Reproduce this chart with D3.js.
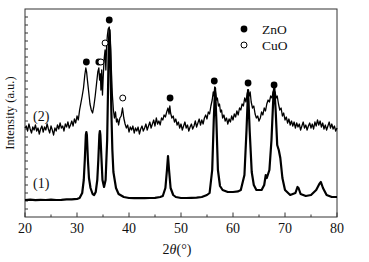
<!DOCTYPE html>
<html>
<head>
<meta charset="utf-8">
<script src="https://cdn.jsdelivr.net/npm/d3@7"></script>
<style>
  body { margin: 0; background: #fff; }
  svg text { font-family: "Liberation Serif", "Times New Roman", serif; fill: #111; }
</style>
</head>
<body>
<svg id="chart"></svg>
<script>
// sample (1): [2theta, intensity]
const pattern1 = [
  [20,85],[21,87],[22,84],[23,86],[24,85],[25,87],[26,85],[27,86],[28,88],[29,88],[29.5,89],[30,90],[30.5,95],
  [31,120],[31.3,185],[31.5,285],[31.7,410],[31.8,425],[31.9,410],[32.1,285],[32.3,195],[32.6,145],[33,115],
  [33.3,110],[33.6,125],[33.9,185],[34.1,285],[34.3,410],[34.4,430],[34.5,410],[34.7,295],[34.9,185],[35.2,150],
  [35.5,185],[35.8,385],[36.0,685],[36.1,860],[36.25,935],[36.4,835],[36.6,535],[36.8,335],[37.0,225],[37.5,145],
  [38,115],[39,100],[40,95],[41,94],[42,95],[43,94],[44,95],[45,96],[46,100],[46.5,105],[47.0,145],[47.3,235],
  [47.5,305],[47.7,235],[48.0,145],[48.5,110],[49,100],[50,95],[51,95],[52,96],[53,97],[54,100],[55,110],
  [55.5,120],[56.0,235],[56.3,485],[56.55,645],[56.8,485],[57.1,235],[57.5,155],[58,135],[59,125],[60,125],
  [61,128],[61.5,135],[62.2,210],[62.6,435],[62.9,635],[63.2,435],[63.6,225],[64,160],[64.5,135],[65.5,135],
  [66.0,160],[66.3,210],[66.5,195],[67.0,235],[67.4,385],[67.8,625],[67.95,645],[68.2,535],[68.5,360],
  [68.8,335],[69.1,295],[69.5,195],[70,135],[71,110],[72,120],[72.4,150],[72.6,145],[73,115],[74,105],
  [75,110],[76,135],[76.6,165],[76.9,175],[77.3,145],[78,110],[79,100],[80,100]
];

// sample (2): [2theta, intensity]
const pattern2 = [
  [20,445],[20.25,455],[20.5,430],[20.75,465],[21,440],[21.25,420],[21.5,450],[21.75,435],[22,460],[22.25,430],
  [22.5,445],[22.75,415],[23,440],[23.25,455],[23.5,425],[23.75,450],[24,435],[24.25,465],[24.5,440],[24.75,420],
  [25,455],[25.25,435],[25.5,410],[25.75,445],[26,430],[26.25,460],[26.5,440],[26.75,470],[27,445],[27.25,455],
  [27.5,430],[27.75,465],[28,450],[28.25,475],[28.5,445],[28.75,460],[29,480],[29.25,455],[29.5,490],[29.75,470],
  [30,505],[30.25,485],[30.5,535],[30.75,570],[31,605],[31.25,645],[31.5,710],[31.7,745],[31.85,725],[32,685],
  [32.25,625],[32.5,565],[32.75,535],[33,520],[33.25,555],[33.5,605],[33.75,665],[34,725],[34.2,745],[34.35,685],
  [34.5,715],[34.6,635],[34.75,735],[34.9,610],[35,675],[35.2,785],[35.4,835],[35.55,735],[35.7,860],[35.85,910],
  [36,940],[36.2,950],[36.35,910],[36.5,810],[36.65,710],[36.8,610],[37,535],[37.2,495],[37.4,525],[37.6,475],
  [37.8,490],[38,460],[38.25,495],[38.5,505],[38.75,545],[39,495],[39.25,465],[39.5,445],[39.75,460],[40,425],
  [40.25,450],[40.5,435],[40.75,455],[41,420],[41.25,445],[41.5,430],[41.75,450],[42,415],[42.25,440],[42.5,455],
  [42.75,430],[43,445],[43.25,465],[43.5,435],[43.75,455],[44,475],[44.25,445],[44.5,465],[44.75,485],[45,455],
  [45.25,495],[45.5,465],[45.75,480],[46,460],[46.25,495],[46.5,485],[46.75,510],[47,500],[47.25,525],[47.5,545],
  [47.7,515],[47.85,555],[48,520],[48.25,495],[48.5,505],[48.75,475],[49,490],[49.25,460],[49.5,475],[49.75,445],
  [50,465],[50.25,435],[50.5,455],[50.75,475],[51,445],[51.25,460],[51.5,430],[51.75,450],[52,465],[52.25,440],
  [52.5,455],[52.75,480],[53,450],[53.25,470],[53.5,490],[53.75,460],[54,485],[54.25,465],[54.5,495],[54.75,510],
  [55,490],[55.25,525],[55.5,515],[55.75,555],[56,585],[56.2,625],[56.35,605],[56.5,650],[56.7,615],[56.85,585],
  [57,595],[57.2,555],[57.4,565],[57.6,525],[57.8,535],[58,495],[58.25,510],[58.5,480],[58.75,495],[59,465],
  [59.25,490],[59.5,475],[59.75,505],[60,485],[60.25,515],[60.5,500],[60.75,530],[61,510],[61.25,545],[61.5,535],
  [61.75,565],[62,555],[62.25,595],[62.5,575],[62.7,615],[62.9,635],[63.1,605],[63.3,625],[63.5,575],[63.75,545],
  [64,555],[64.25,515],[64.5,495],[64.75,505],[65,480],[65.25,495],[65.5,525],[65.75,510],[66,545],[66.25,530],
  [66.5,565],[66.75,585],[67,575],[67.25,605],[67.5,595],[67.7,625],[67.9,605],[68.1,625],[68.3,595],[68.5,605],
  [68.75,565],[69,535],[69.25,545],[69.5,505],[69.75,520],[70,485],[70.25,500],[70.5,470],[70.75,490],[71,460],
  [71.25,480],[71.5,455],[71.75,475],[72,445],[72.25,470],[72.5,450],[72.75,465],[73,435],[73.25,455],[73.5,475],
  [73.75,445],[74,460],[74.25,435],[74.5,455],[74.75,470],[75,445],[75.25,465],[75.5,440],[75.75,475],[76,455],
  [76.25,485],[76.5,460],[76.75,480],[77,450],[77.25,470],[77.5,440],[77.75,460],[78,435],[78.25,455],[78.5,475],
  [78.75,445],[79,465],[79.25,440],[79.5,455],[79.75,430],[80,445]
];

// peak markers
const znoPeaks = [[31.8,775],[34.2,775],[36.2,985],[47.9,595],[56.4,680],[62.9,670],[67.9,660]];
const cuoPeaks = [[34.6,775],[35.4,870],[38.8,595]];

const xTicks = [20, 30, 40, 50, 60, 70, 80];
const sampleLabels = [{ text: "(2)", v: 480 }, { text: "(1)", v: 145 }];

const W = 369, H = 262;
const margin = { top: 9, right: 32, bottom: 45, left: 25 };
const width = W - margin.left - margin.right;
const height = H - margin.top - margin.bottom;
const serif = "Liberation Serif, Times New Roman, serif";

const svg = d3.select("#chart").attr("width", W).attr("height", H);
const g = svg.append("g").attr("transform", `translate(${margin.left},${margin.top})`);

const x = d3.scaleLinear().domain([20, 80]).range([0, width]);
const y = d3.scaleLinear().domain([0, 1040]).range([height, 0]);

// frame
g.append("rect")
  .attr("width", width).attr("height", height)
  .attr("fill", "none").attr("stroke", "#333").attr("stroke-width", 1);

// x ticks (inward), major + minor
const xAxis = g.append("g").attr("transform", `translate(0,${height})`);
xAxis.selectAll("line.minor")
  .data(d3.range(25, 80, 10))
  .join("line")
  .attr("x1", d => x(d)).attr("x2", d => x(d))
  .attr("y1", 0).attr("y2", -2.5)
  .attr("stroke", "#333");
xAxis.selectAll("line.major")
  .data(xTicks)
  .join("line")
  .attr("x1", d => x(d)).attr("x2", d => x(d))
  .attr("y1", 0).attr("y2", -4.5)
  .attr("stroke", "#333");
xAxis.selectAll("text")
  .data(xTicks)
  .join("text")
  .attr("x", d => x(d)).attr("y", 16)
  .attr("text-anchor", "middle")
  .attr("font-family", serif)
  .attr("font-size", 14)
  .text(d => d);

// y ticks (inward, no labels)
g.selectAll("line.ytick")
  .data(d3.range(40, 1040, 40))
  .join("line")
  .attr("x1", 0).attr("x2", 3)
  .attr("y1", d => y(d)).attr("y2", d => y(d))
  .attr("stroke", "#333");

// curves
const line = d3.line().x(d => x(d[0])).y(d => y(d[1]));
g.append("path").datum(pattern1)
  .attr("d", line).attr("fill", "none")
  .attr("stroke", "#000").attr("stroke-width", 2.2).attr("stroke-linejoin", "round");
g.append("path").datum(pattern2)
  .attr("d", line).attr("fill", "none")
  .attr("stroke", "#000").attr("stroke-width", 1.3).attr("stroke-linejoin", "round");

// markers
g.selectAll("circle.zno")
  .data(znoPeaks)
  .join("circle")
  .attr("cx", d => x(d[0])).attr("cy", d => y(d[1]))
  .attr("r", 3.4).attr("fill", "#000");
g.selectAll("circle.cuo")
  .data(cuoPeaks)
  .join("circle")
  .attr("cx", d => x(d[0])).attr("cy", d => y(d[1]))
  .attr("r", 3).attr("fill", "#fff").attr("stroke", "#000").attr("stroke-width", 1);

// sample labels
g.selectAll("text.sample")
  .data(sampleLabels)
  .join("text")
  .attr("x", 8).attr("y", d => y(d.v))
  .attr("font-family", serif)
  .attr("font-size", 14)
  .text(d => d.text);

// legend
const legend = g.append("g").attr("transform", `translate(${244 - margin.left},${29 - margin.top})`);
legend.append("circle").attr("cx", 0).attr("cy", 0).attr("r", 3.4).attr("fill", "#000");
legend.append("circle").attr("cx", 0).attr("cy", 16).attr("r", 3).attr("fill", "#fff").attr("stroke", "#000");
legend.append("text").attr("x", 18).attr("y", 4.5).attr("font-family", serif).attr("font-size", 13.5).text("ZnO");
legend.append("text").attr("x", 18).attr("y", 20.5).attr("font-family", serif).attr("font-size", 13.5).text("CuO");

// axis titles
const xt = svg.append("text")
  .attr("x", margin.left + width / 2 - 4).attr("y", 254)
  .attr("text-anchor", "middle").attr("font-family", serif).attr("font-size", 14);
xt.append("tspan").text("2");
xt.append("tspan").attr("font-style", "italic").text("θ");
xt.append("tspan").text("(°)");

svg.append("text")
  .attr("transform", `translate(14,${113}) rotate(-90)`)
  .attr("text-anchor", "middle").attr("font-family", serif).attr("font-size", 12.5)
  .text("Intensity (a.u.)");
</script>
</body>
</html>
